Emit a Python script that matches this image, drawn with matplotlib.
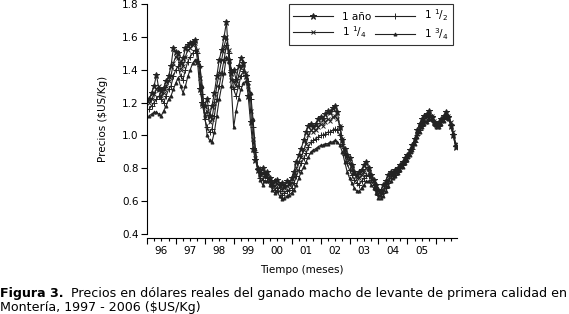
import matplotlib
matplotlib.use("Agg")
import matplotlib.pyplot as plt
from matplotlib.ticker import FuncFormatter, MultipleLocator
import numpy as np

plt.rcParams['font.family'] = ['DejaVu Sans']
plt.rcParams['mathtext.fontset'] = 'dejavusans'

# months since Jan 1996
months = list(range(1, 129))

s_1 = [
    1.22, 1.26, 1.30, 1.37, 1.28, 1.27, 1.29, 1.33, 1.36, 1.42,
    1.53, 1.51, 1.50, 1.44, 1.47, 1.53, 1.55, 1.56, 1.57, 1.58,
    1.45, 1.28, 1.20, 1.18, 1.22, 1.12, 1.18, 1.26, 1.36, 1.46,
    1.52, 1.60, 1.69, 1.46, 1.38, 1.40, 1.34, 1.42, 1.47, 1.44,
    1.36, 1.24, 1.08, 0.92, 0.85, 0.79, 0.77, 0.80, 0.76, 0.78,
    0.74, 0.71, 0.72, 0.73, 0.70, 0.71, 0.69, 0.72, 0.71, 0.74,
    0.78, 0.84, 0.88, 0.92, 0.97, 1.02, 1.06, 1.07, 1.05, 1.07,
    1.10, 1.11, 1.10, 1.13, 1.15, 1.14, 1.17, 1.18, 1.14, 1.05,
    0.97, 0.92, 0.88, 0.86, 0.82, 0.78, 0.76, 0.78, 0.79, 0.82,
    0.84, 0.80, 0.76, 0.73, 0.70, 0.67, 0.66, 0.70, 0.72, 0.76,
    0.78, 0.77, 0.79, 0.80, 0.82, 0.84, 0.86, 0.88, 0.91, 0.94,
    0.98, 1.03, 1.07, 1.10, 1.12, 1.13, 1.15, 1.11, 1.08, 1.07,
    1.08, 1.10, 1.12, 1.14, 1.11, 1.06, 1.00, 0.93,
]

s_1_1_4 = [
    1.20, 1.22, 1.25, 1.28, 1.30, 1.24, 1.26, 1.30, 1.33, 1.36,
    1.44, 1.48, 1.47, 1.40, 1.42, 1.48, 1.52, 1.53, 1.55, 1.56,
    1.52, 1.35, 1.18, 1.13, 1.15, 1.08, 1.10, 1.20, 1.30, 1.38,
    1.46, 1.54, 1.60, 1.52, 1.34, 1.33, 1.30, 1.36, 1.41, 1.43,
    1.38, 1.30, 1.15, 0.98, 0.86, 0.80, 0.76, 0.77, 0.78, 0.75,
    0.73, 0.70, 0.69, 0.71, 0.69, 0.67, 0.68, 0.69, 0.70, 0.71,
    0.75, 0.80, 0.84, 0.87, 0.91, 0.95, 1.00, 1.03, 1.02, 1.03,
    1.05, 1.07, 1.06, 1.08, 1.10, 1.09, 1.11, 1.12, 1.10, 1.06,
    0.98, 0.90, 0.86, 0.83, 0.80, 0.77, 0.74, 0.74, 0.76, 0.78,
    0.80, 0.78, 0.75, 0.72, 0.69, 0.66, 0.64, 0.67, 0.70, 0.73,
    0.76, 0.76, 0.78, 0.79, 0.81, 0.83, 0.85, 0.87, 0.90, 0.93,
    0.97, 1.01, 1.05, 1.08, 1.10, 1.11, 1.13, 1.12, 1.09, 1.07,
    1.07, 1.09, 1.11, 1.13, 1.12, 1.08, 1.02, 0.95,
]

s_1_1_2 = [
    1.16, 1.18, 1.20, 1.22, 1.24, 1.22, 1.20, 1.24, 1.28, 1.30,
    1.36, 1.40, 1.42, 1.36, 1.34, 1.40, 1.45, 1.48, 1.50, 1.52,
    1.50, 1.42, 1.25, 1.10, 1.05, 1.02, 1.04, 1.12, 1.22, 1.30,
    1.38, 1.46, 1.55, 1.50, 1.40, 1.28, 1.24, 1.30, 1.36, 1.39,
    1.37, 1.33, 1.22, 1.05, 0.90, 0.80, 0.74, 0.73, 0.75, 0.74,
    0.72, 0.69, 0.67, 0.68, 0.66, 0.64, 0.65, 0.66, 0.67, 0.68,
    0.71, 0.75, 0.79, 0.83, 0.86, 0.89, 0.93, 0.96, 0.97, 0.98,
    0.99, 1.00, 1.00, 1.01, 1.02, 1.02, 1.03, 1.04, 1.03, 1.00,
    0.95, 0.88, 0.83, 0.79, 0.76, 0.73, 0.71, 0.70, 0.72, 0.74,
    0.76, 0.75, 0.73, 0.70, 0.67, 0.64, 0.63, 0.65, 0.68, 0.71,
    0.74, 0.75, 0.76, 0.78, 0.80, 0.82, 0.84, 0.86, 0.89, 0.92,
    0.96, 1.00, 1.03, 1.06, 1.08, 1.09, 1.11, 1.11, 1.08, 1.06,
    1.06, 1.08, 1.10, 1.12, 1.11, 1.07, 1.01, 0.94,
]

s_1_3_4 = [
    1.12, 1.13, 1.14, 1.14, 1.13, 1.12, 1.15, 1.18, 1.22, 1.24,
    1.28, 1.32, 1.35, 1.30, 1.26, 1.30, 1.36, 1.40, 1.44, 1.46,
    1.46, 1.42, 1.30, 1.12, 1.00, 0.97, 0.96, 1.02, 1.12, 1.22,
    1.30, 1.38, 1.48, 1.45, 1.30, 1.05, 1.15, 1.22, 1.28, 1.32,
    1.33, 1.32, 1.26, 1.10, 0.92, 0.80, 0.73, 0.70, 0.72, 0.72,
    0.70, 0.67, 0.65, 0.66, 0.63, 0.61, 0.62, 0.63, 0.64, 0.65,
    0.67, 0.70, 0.74, 0.78, 0.81, 0.84, 0.87, 0.90, 0.91, 0.92,
    0.93, 0.94, 0.94, 0.95, 0.95, 0.96, 0.96, 0.97, 0.96, 0.94,
    0.90, 0.84, 0.78, 0.74, 0.71, 0.68, 0.66, 0.66, 0.68, 0.70,
    0.72, 0.72, 0.70, 0.68, 0.65, 0.62, 0.62, 0.63, 0.66, 0.69,
    0.72, 0.74, 0.75, 0.77, 0.79, 0.81, 0.83, 0.85, 0.88, 0.91,
    0.95, 0.99, 1.02, 1.05, 1.07, 1.08, 1.10, 1.10, 1.07, 1.05,
    1.05, 1.07, 1.09, 1.11, 1.10, 1.06, 1.00, 0.93,
]

year_labels = ["96", "97", "98", "99", "00", "01", "02", "03", "04", "05"]
y_ticks = [0.4, 0.6, 0.8, 1.0, 1.2, 1.4, 1.6, 1.8]

legend_labels = ["1 año", r"1 $^{1}/_{4}$", r"1 $^{1}/_{2}$", r"1 $^{3}/_{4}$"]

fig = plt.figure(figsize=(5.69, 3.14), dpi=100)
ax = fig.add_axes([0.258, 0.255, 0.545, 0.732])

col = "#222222"
series = [s_1, s_1_1_4, s_1_1_2, s_1_3_4]
markers = ["*", "x", "+", "^"]
msizes = [4.5, 3.0, 4.0, 2.2]
for s, mk, ms, lab in zip(series, markers, msizes, legend_labels):
    ax.plot(months, s, color=col, lw=0.8, marker=mk, markersize=ms,
            markeredgewidth=0.7, label=lab)

ax.set_ylim(0.4, 1.8)
ax.set_xlim(0.8, 128.5)
ax.set_yticks(y_ticks)
ax.yaxis.set_major_formatter(FuncFormatter(lambda v, p: f"{v:.1f}"))

ax.set_xticks(list(range(0, 132, 12)))
ax.set_xticklabels([])
ax.xaxis.set_minor_locator(MultipleLocator(3))
def minor_fmt(v, p):
    m = int(round(v))
    if m % 12 == 6 and 0 <= (m - 6) // 12 < len(year_labels):
        return year_labels[(m - 6) // 12]
    return ""
ax.xaxis.set_minor_formatter(FuncFormatter(minor_fmt))

for sp in ["top", "right"]:
    ax.spines[sp].set_visible(False)
ax.spines["bottom"].set_position(("outward", 3))
ax.spines["left"].set_linewidth(0.8)
ax.spines["bottom"].set_linewidth(0.8)

ax.tick_params(axis="y", direction="out", length=4, width=0.8, labelsize=7.5, pad=2)
ax.tick_params(axis="x", which="major", direction="out", length=4, width=0.8)
ax.tick_params(axis="x", which="minor", direction="out", length=2, width=0.8,
               labelsize=7.5, pad=4)

ax.set_ylabel(r"Precios (\$US/Kg)", fontsize=7.5, labelpad=10)
ax.set_xlabel("Tiempo (meses)", fontsize=7.5, labelpad=6)

leg = ax.legend(ncol=2, loc="upper left", bbox_to_anchor=(0.46, 1.0),
                fontsize=7.5, handlelength=3.8, handletextpad=0.9,
                columnspacing=0.4, numpoints=1, frameon=True, fancybox=False,
                borderpad=0.35, labelspacing=0.25, borderaxespad=0.0)
leg.get_frame().set_edgecolor("black")
leg.get_frame().set_linewidth(0.8)

cap_fs = 9.05
fig.text(0.0, 1 - 293 / 314, "Figura 3.", fontsize=cap_fs, fontweight="bold",
         va="center", ha="left")
fig.text(0.125, 1 - 293 / 314,
         "Precios en dólares reales del ganado macho de levante de primera calidad en",
         fontsize=cap_fs, va="center", ha="left")
fig.text(0.0, 1 - 307 / 314, r"Montería, 1997 - 2006 (\$US/Kg)", fontsize=cap_fs,
         va="center", ha="left")

fig.savefig("out.png", dpi=100)
